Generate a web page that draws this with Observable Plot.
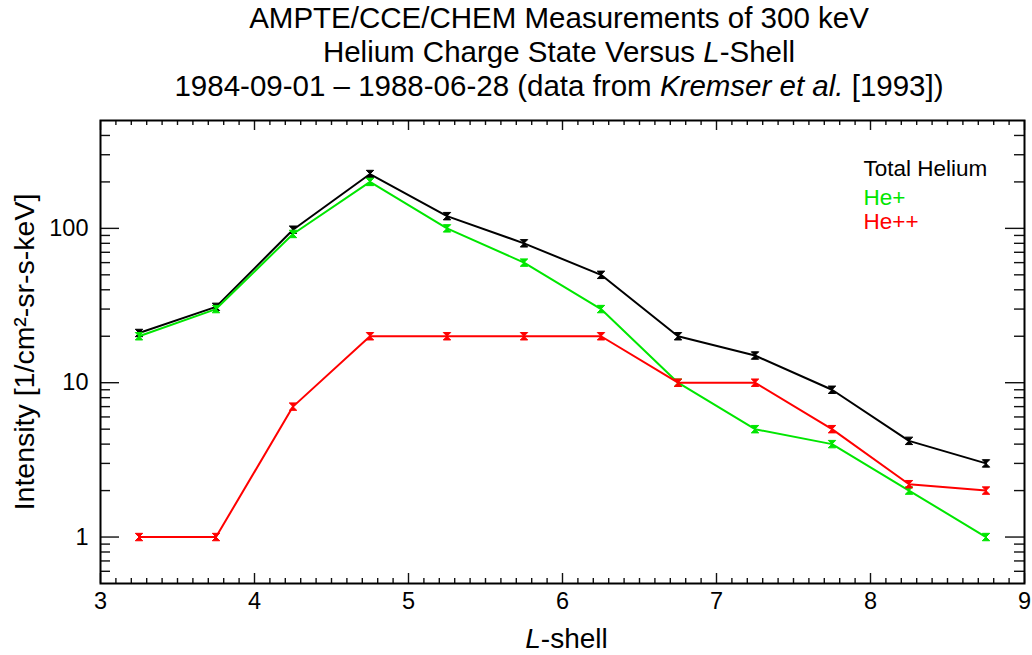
<!DOCTYPE html>
<html>
<head>
<meta charset="utf-8">
<script src="https://cdn.jsdelivr.net/npm/d3@7"></script>
<script src="https://cdn.jsdelivr.net/npm/@observablehq/plot@0.6"></script>
<style>
  html, body { margin: 0; padding: 0; background: #fff; }
  body { width: 1032px; height: 655px; overflow: hidden; font-family: "Liberation Sans", Arial, sans-serif; }
  #title {
    width: 1032px; box-sizing: border-box; padding-left: 86px;
    height: 100px; overflow: visible; text-align: center; color: #000;
    font-size: 29.5px; line-height: 34px; padding-top: 1px;
  }
  #chart svg { display: block; }
</style>
</head>
<body>
<div id="title">
  <div>AMPTE/CCE/CHEM Measurements of 300 keV</div>
  <div>Helium Charge State Versus <i>L</i>-Shell</div>
  <div>1984-09-01 – 1988-06-28 (data from <i>Kremser et al.</i> [1993])</div>
</div>
<div id="chart"></div>
<script>
// L-shell bin centres
const lShell = [3.25, 3.75, 4.25, 4.75, 5.25, 5.75, 6.25, 6.75, 7.25, 7.75, 8.25, 8.75];
// Intensities, 1/cm^2-sr-s-keV
const totalHelium = [21, 31, 98, 225, 120, 80, 50, 20, 15, 9, 4.2, 3];
const heSingle = [20, 30, 92, 200, 100, 60, 30, 10, 5, 4, 2, 1];
const heDouble = [1, 1, 7, 20, 20, 20, 20, 10, 10, 5, 2.2, 2];

const seriesNames = ["Total Helium", "He+", "He++"];
const seriesColors = ["#000000", "#00e600", "#ff0000"];
const seriesValues = [totalHelium, heSingle, heDouble];

// Axis ticks
const xTicks = [3, 4, 5, 6, 7, 8, 9];
const yTicks = [1, 10, 100];
const xLabel = "L-shell";
const yLabel = "Intensity [1/cm²-sr-s-keV]";

const W = 1032, H = 555;
const mT = 20, mB = 72, mL = 100, mR = 8;
const fw = W - mL - mR, fh = H - mT - mB;

// minor tick positions
const xMinor = d3.range(3, 9, 0.1).map(v => +v.toFixed(2)).filter(v => Math.abs(v - Math.round(v)) > 1e-6);
const yMinor = [0.6, 0.7, 0.8, 0.9, 2, 3, 4, 5, 6, 7, 8, 9, 20, 30, 40, 50, 60, 70, 80, 90, 200, 300, 400];

const rows = seriesNames.map((name, i) =>
  lShell.map((L, j) => ({series: name, L, v: seriesValues[i][j]})));

// hourglass-shaped marker
const hourglass = {
  draw(ctx, size) {
    const r = Math.sqrt(size) * 0.5;
    ctx.moveTo(-r, -r); ctx.lineTo(r, -r); ctx.lineTo(-r, r); ctx.lineTo(r, r); ctx.closePath();
  }
};

const tickStyle = {stroke: "#111", strokeWidth: 1.4};

const marks = [
  // inward ticks, bottom & top
  Plot.ruleX(xMinor, {x: d => d, insetTop: fh - 5, ...tickStyle}),
  Plot.ruleX(xMinor, {x: d => d, insetBottom: fh - 5, ...tickStyle}),
  Plot.ruleX(xTicks, {x: d => d, insetTop: fh - 10, ...tickStyle}),
  Plot.ruleX(xTicks, {x: d => d, insetBottom: fh - 10, ...tickStyle}),
  // inward ticks, left & right
  Plot.ruleY(yMinor, {y: d => d, insetRight: fw - 10, ...tickStyle}),
  Plot.ruleY(yMinor, {y: d => d, insetLeft: fw - 10, ...tickStyle}),
  Plot.ruleY(yTicks, {y: d => d, insetRight: fw - 19, ...tickStyle}),
  Plot.ruleY(yTicks, {y: d => d, insetLeft: fw - 19, ...tickStyle}),
  Plot.axisX(xTicks, {tickSize: 0, tickPadding: 9, tickFormat: d => String(d), label: null, fontSize: 23.5}),
  Plot.axisY(yTicks, {tickSize: 0, tickPadding: 12, tickFormat: d => String(d), label: null, fontSize: 23.5}),
];

rows.forEach((data, i) => {
  marks.push(Plot.line(data, {x: "L", y: "v", stroke: seriesColors[i], strokeWidth: 2}));
  marks.push(Plot.dot(data, {x: "L", y: "v", symbol: hourglass, r: 4.2, fill: seriesColors[i], stroke: seriesColors[i], strokeWidth: 1}));
});

marks.push(Plot.frame({stroke: "#000", strokeWidth: 2}));

// legend inside the frame, top right
seriesNames.forEach((name, i) => {
  marks.push(Plot.text([name], {
    text: d => d, frameAnchor: "top-right", textAnchor: "start", lineAnchor: "bottom",
    dx: -161, dy: [55, 84, 108][i], fill: seriesColors[i], fontSize: 22.5
  }));
});

// axis titles
marks.push(Plot.text([xLabel], {text: d => d, frameAnchor: "bottom", lineAnchor: "bottom", dy: 64, dx: 4, fontSize: 28, fill: "#000"}));
marks.push(Plot.text([yLabel], {text: d => d, frameAnchor: "left", textAnchor: "middle", rotate: -90, lineAnchor: "top", dx: -87, fontSize: 28.5, fill: "#000"}));

const chart = Plot.plot({
  width: W, height: H,
  marginTop: mT, marginBottom: mB, marginLeft: mL, marginRight: mR,
  style: {fontFamily: "'Liberation Sans', Arial, sans-serif", fontSize: "23px", background: "#fff", color: "#000", overflow: "visible"},
  x: {domain: [3, 9], label: null},
  y: {type: "log", domain: [0.5, 500], label: null},
  marks
});

// italic L in the x-axis title
d3.select(chart).selectAll("text")
  .filter(function() { return this.textContent === xLabel; })
  .each(function() {
    const t = d3.select(this);
    t.text(null);
    t.append("tspan").attr("font-style", "italic").text("L");
    t.append("tspan").text("-shell");
  });

document.getElementById("chart").appendChild(chart);
</script>
</body>
</html>
